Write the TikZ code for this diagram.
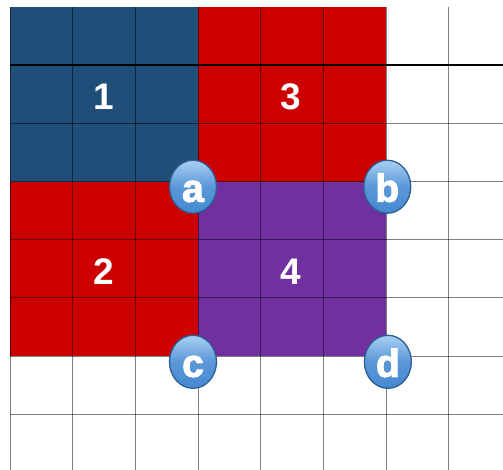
\documentclass[tikz,border=0pt]{standalone}
\usepackage{fontspec}
\setmainfont{Liberation Sans}
\newfontfamily\markfont[FakeBold=2.5]{Liberation Sans Bold}
\usetikzlibrary{shapes.geometric}
\definecolor{blockblue}{HTML}{1F4E79}
\definecolor{blockred}{HTML}{CC0000}
\definecolor{blockpurple}{HTML}{7030A0}
\definecolor{marktop}{HTML}{A9D0F4}
\definecolor{markbot}{HTML}{4689D0}
\definecolor{markedge}{HTML}{2C5E93}
\begin{document}
\begin{tikzpicture}[x=62.67pt, y=-58.17pt,
    gridline/.style={black, opacity=0.5, line width=1pt},
    num/.style={text=white, font=\fontsize{37}{37}\selectfont\bfseries},
    corner/.style={ellipse, draw=markedge, line width=1.3pt, top color=marktop,
        bottom color=markbot, middle color=markbot!80!marktop, minimum width=47pt,
        minimum height=53pt, inner sep=0pt, text=white, text height=30pt,
        text depth=0pt, font=\fontsize{39}{39}\markfont}]
    \useasboundingbox (-0.1596,-0.1203) rectangle (7.867,7.959);
    \clip (-0.1596,-0.1203) rectangle (7.867,7.959);
    \fill[white] (-0.1596,-0.1203) rectangle (7.867,7.959);
    % the four blocks
    \fill[blockblue] (0,0) rectangle (3,3);
    \fill[blockred] (3,0) rectangle (6,3);
    \fill[blockred] (0,3) rectangle (3,6);
    \fill[blockpurple] (3,3) rectangle (6,6);
    % grid
    \foreach \i in {0,...,7}
        \draw[gridline] (\i,0) -- (\i,8);
    \foreach \j in {2,...,7}
        \draw[gridline] (0,\j) -- (8,\j);
    \draw[black, line width=1.8pt] (0,1) -- (8,1);
    % block numbers
    \node[num] (n1) at (1.5,1.54) {1};
    \node[num] (n3) at (4.48,1.54) {3};
    \node[num] (n2) at (1.5,4.55) {2};
    \node[num] (n4) at (4.48,4.55) {4};
    % corner marks
    \node[corner] (a) at (2.92,3.09) {a};
    \node[corner] (b) at (6.02,3.09) {b};
    \node[corner] (c) at (2.92,6.10) {c};
    \node[corner] (d) at (6.03,6.10) {d};
\end{tikzpicture}
\end{document}
